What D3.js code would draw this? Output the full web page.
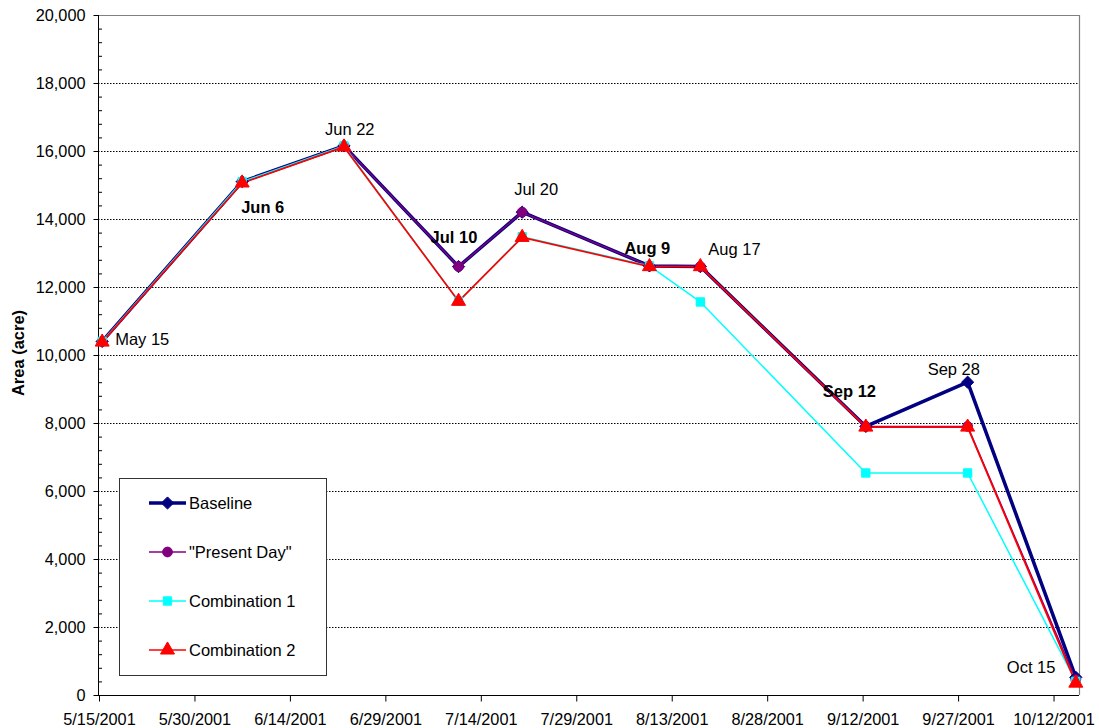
<!DOCTYPE html>
<html><head><meta charset="utf-8">
<script src="https://cdn.jsdelivr.net/npm/d3@7"></script>
<style>body{margin:0;background:#fff;}svg{display:block;font-family:"Liberation Sans",Arial,sans-serif;}</style>
</head><body><svg id="c" width="1099" height="728"></svg>
<script>
const dates = ["2001-05-15T12","2001-06-06T12","2001-06-22T12","2001-07-10T12","2001-07-20T12","2001-08-09T12","2001-08-17T12","2001-09-12T12","2001-09-28T12","2001-10-15T12"];
const baseline    = [10400,15100,16150,12600,14200,12620,12600,7900,9200,520];
const presentDay  = [10400,15100,16150,12600,14200,12620,12600,7900,7900,450];
const combination1= [10400,15100,16150,11580,13480,12620,11560,6530,6530,400];
const combination2= [10380,15060,16120,11580,13460,12600,12600,7880,7880,350];
const pointLabels = ["May 15","Jun 6","Jun 22","Jul 10","Jul 20","Aug 9","Aug 17","Sep 12","Sep 28","Oct 15"];
const labelBold   = [false,true,false,true,false,true,false,true,false,false];
const xTickDates  = ["2001-05-15","2001-05-30","2001-06-14","2001-06-29","2001-07-14","2001-07-29","2001-08-13","2001-08-28","2001-09-12","2001-09-27","2001-10-12"];
const yTicks = [0,2000,4000,6000,8000,10000,12000,14000,16000,18000,20000];
const seriesNames = ["Baseline","\"Present Day\"","Combination 1","Combination 2"];

const parseD = d3.utcParse("%Y-%m-%d");
const parseH = d3.utcParse("%Y-%m-%dT%H");
const svg = d3.select("#c");
const L=98, R=1079, T=15, B=695;
const x = d3.scaleUtc().domain([parseD("2001-05-15"), parseD("2001-10-16")]).range([L+1, R]);
const y = d3.scaleLinear().domain([0,20000]).range([B,T]);
const FF = "Liberation Sans, Arial, sans-serif";

// gridlines
svg.append("g").selectAll("line").data(yTicks.filter(v=>v>0&&v<20000)).join("line")
  .attr("x1",L).attr("x2",R).attr("y1",d=>y(d)+0.5).attr("y2",d=>y(d)+0.5)
  .attr("stroke","#000").attr("stroke-width",1).attr("stroke-dasharray","1.5,1.5");
// plot border (top, right)
svg.append("path").attr("d",`M${L},${T+0.5}H${R+0.5}V${B}`).attr("fill","none").attr("stroke","#808080").attr("stroke-width",1.2);

// y axis
const yAxis = d3.axisLeft(y).tickValues(yTicks).tickSize(5).tickPadding(8).tickFormat(d3.format(","));
const gy = svg.append("g").attr("transform",`translate(${L+0.5},0)`).call(yAxis);
gy.select(".domain").attr("d",`M0,${T}V${B}`).attr("stroke","#000");
gy.selectAll("text").attr("font-size",16.3).attr("fill","#000").attr("font-family",FF);
// minor ticks
const minor = d3.range(0,20001,400).filter(v=>v%2000!==0);
svg.append("g").selectAll("line").data(minor).join("line")
  .attr("x1",L).attr("x2",L+4).attr("y1",d=>y(d)+0.5).attr("y2",d=>y(d)+0.5).attr("stroke","#000");

// x axis
const xAxis = d3.axisBottom(x).tickValues(xTickDates.map(parseD)).tickSize(6).tickPadding(12).tickFormat(d3.utcFormat("%-m/%-d/%Y"));
const gx = svg.append("g").attr("transform",`translate(0,${B+0.5})`).call(xAxis);
gx.select(".domain").attr("d",`M${L},0H${R}`).attr("stroke","#000");
gx.selectAll("text").attr("font-size",16.3).attr("fill","#000").attr("font-family",FF);

// y title
svg.append("text").attr("transform",`translate(24,353) rotate(-90)`).attr("text-anchor","middle")
  .attr("font-size",16.5).attr("font-weight","bold").text("Area (acre)");

const sym = {
  diamond: d3.symbol().type(d3.symbolDiamond2).size(95),
  circle: d3.symbol().type(d3.symbolCircle).size(75),
  square: d3.symbol().type(d3.symbolSquare).size(70),
  triangle: d3.symbol().type(d3.symbolTriangle).size(85)
};
const series = [
  {name:seriesNames[0], vals:baseline, color:"#000080", w:3.5, m:"diamond"},
  {name:seriesNames[1], vals:presentDay, color:"#800080", w:1.5, m:"circle"},
  {name:seriesNames[2], vals:combination1, color:"#00FFFF", w:1.5, m:"square"},
  {name:seriesNames[3], vals:combination2, color:"#FF0000", w:1.7, m:"triangle"}
];
const line = d3.line().x(d=>x(parseH(d[0]))).y(d=>y(d[1]));
series.forEach(s=>{
  const pts = dates.map((d,i)=>[d,s.vals[i]]);
  svg.append("path").datum(pts).attr("d",line).attr("fill","none").attr("stroke",s.color).attr("stroke-width",s.w).attr("stroke-linejoin","round");
});
series.forEach(s=>{
  const pts = dates.map((d,i)=>[d,s.vals[i]]);
  svg.append("g").selectAll("path").data(pts).join("path")
    .attr("transform",d=>`translate(${x(parseH(d[0]))},${y(d[1])})`)
    .attr("d",sym[s.m]).attr("fill",s.color).attr("stroke",s.color).attr("stroke-width",1);
});

// point labels
const labelOff = [[13,4],[-1,31],[-19,-11],[-28,-24],[-8,-17],[-25,-12],[8,-12],[-43,-29],[-40,-7],[-69,-4]];
svg.append("g").selectAll("text").data(pointLabels).join("text")
  .attr("x",(d,i)=>x(parseH(dates[i]))+labelOff[i][0])
  .attr("y",(d,i)=>y(baseline[i])+labelOff[i][1])
  .attr("font-size",16.5).attr("font-weight",(d,i)=>labelBold[i]?"bold":"normal").text(d=>d);

// legend
const lg = svg.append("g");
lg.append("rect").attr("x",119.5).attr("y",478.5).attr("width",207).attr("height",197).attr("fill","#fff").attr("stroke","#333").attr("stroke-width",1);
series.forEach((s,i)=>{
  const yy = 503 + i*49;
  lg.append("line").attr("x1",149).attr("x2",186).attr("y1",yy).attr("y2",yy).attr("stroke",s.color).attr("stroke-width",s.w);
  lg.append("path").attr("transform",`translate(167.5,${yy})`).attr("d",sym[s.m]).attr("fill",s.color).attr("stroke",s.color);
  lg.append("text").attr("x",189).attr("y",yy+6).attr("font-size",16.5).text(s.name);
});
</script></body></html>
